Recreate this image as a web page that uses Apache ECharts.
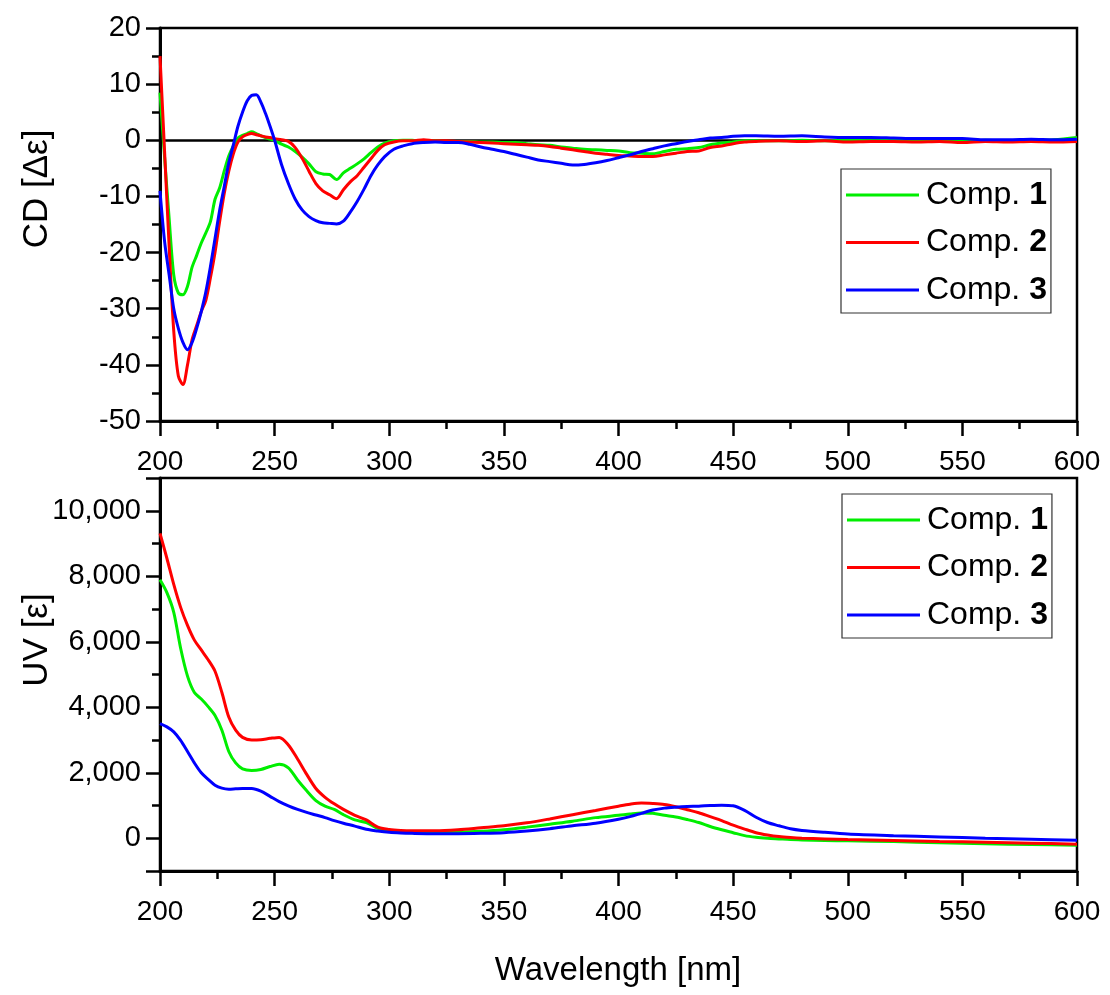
<!DOCTYPE html>
<html>
<head>
<meta charset="utf-8">
<script src="https://cdn.jsdelivr.net/npm/echarts@6/dist/echarts.min.js"></script>
<style>html,body{margin:0;padding:0;background:#fff;}#chart{width:1110px;height:995px;}</style>
</head>
<body>
<div id="chart"></div>
<script>
// ---------- DATA ----------
const seriesNames = ['Comp. 1', 'Comp. 2', 'Comp. 3'];
const xTicks = [200, 250, 300, 350, 400, 450, 500, 550, 600];
const cdTicks = [20, 10, 0, -10, -20, -30, -40, -50];
const uvTicks = [0, 2000, 4000, 6000, 8000, 10000];

const cdWavelengths = [200,202,204,206,208,210,212,214,216,218,220,222,224,226,228,230,232,234,236,238,240,242,244,246,248,250,253,256,259,262,265,268,271,274,277,280,283,286,289,292,295,298,302,306,310,315,320,325,330,335,340,345,350,355,360,365,370,375,380,385,390,395,400,405,410,415,420,425,430,435,440,445,450,455,460,470,480,490,500,510,520,530,540,550,560,570,580,590,600];
const cd1 = [8.5,-3,-14,-24,-27.2,-27.5,-26,-22.6,-20.5,-18.3,-16.5,-14.5,-10.5,-8.5,-5.5,-2.8,-1,0.4,0.9,1.2,1.5,1.2,0.8,0.5,0.2,0,-0.7,-1.2,-2.0,-3.0,-4.2,-5.6,-6.0,-6.1,-7.0,-5.8,-5.0,-4.2,-3.3,-2.2,-1.2,-0.5,-0.1,0,0,-0.2,-0.1,-0.2,-0.2,-0.2,-0.3,-0.3,-0.4,-0.4,-0.6,-0.8,-0.9,-1.2,-1.4,-1.6,-1.7,-1.8,-1.9,-2.2,-2.3,-2.4,-2.0,-1.6,-1.5,-1.3,-0.8,-0.5,-0.3,-0.1,-0.1,-0.1,0,-0.1,0,-0.1,0,-0.1,0,-0.2,0,-0.1,0,0.1,0.5];
const cd2 = [15,-2,-19,-34,-42,-43.5,-40,-35.5,-33,-30.5,-28.5,-24.5,-20,-14.5,-9.5,-5.5,-2.4,-0.3,0.6,1.0,1.2,1.0,0.8,0.6,0.5,0.3,0.1,-0.2,-1.3,-3.2,-5.5,-7.7,-9.0,-9.7,-10.4,-8.8,-7.4,-6.3,-4.8,-3.3,-1.8,-0.8,-0.3,-0.1,-0.1,0.1,-0.1,-0.1,-0.2,-0.3,-0.4,-0.5,-0.6,-0.7,-0.8,-0.9,-1.1,-1.4,-1.7,-2.0,-2.3,-2.5,-2.7,-2.8,-2.9,-2.9,-2.6,-2.3,-2.0,-1.9,-1.3,-1.0,-0.6,-0.3,-0.2,-0.1,-0.2,-0.1,-0.3,-0.2,-0.2,-0.3,-0.2,-0.4,-0.2,-0.3,-0.2,-0.3,-0.2];
const cd3 = [-9,-18,-24,-30,-33.5,-36,-37.3,-36,-33.5,-30.5,-27,-22.5,-17.5,-12.5,-8.3,-4.0,-0.8,2.5,5.0,7.0,8.0,8.1,6.8,4.8,2.5,0,-4.3,-7.7,-10.5,-12.4,-13.6,-14.3,-14.7,-14.8,-14.9,-14.4,-12.8,-10.9,-8.7,-6.3,-4.4,-2.9,-1.6,-1.0,-0.6,-0.4,-0.3,-0.4,-0.4,-0.7,-1.2,-1.6,-2.0,-2.5,-3.0,-3.5,-3.8,-4.1,-4.4,-4.3,-4.0,-3.6,-3.1,-2.6,-2.0,-1.5,-1.0,-0.6,-0.2,0.1,0.4,0.5,0.7,0.8,0.8,0.7,0.8,0.6,0.5,0.5,0.4,0.3,0.3,0.3,0.1,0.1,0.2,0.1,0.2];

const uvWavelengths = [200,203,206,209,212,215,218,221,224,227,230,233,236,240,244,248,252,256,260,264,268,272,276,280,285,290,295,300,305,310,320,330,340,350,360,370,380,390,400,405,410,415,420,425,430,435,440,445,450,455,460,465,470,475,480,490,500,520,540,560,580,600];
const uv1 = [7890,7500,6900,5800,4950,4450,4250,4020,3750,3300,2650,2300,2120,2070,2100,2190,2260,2150,1780,1450,1150,980,880,720,560,480,300,220,180,170,170,180,210,260,340,430,520,630,700,740,770,760,700,650,570,480,360,260,170,80,30,0,-20,-40,-50,-70,-80,-100,-140,-170,-190,-210];
const uv2 = [9310,8550,7750,7050,6500,6050,5750,5450,5100,4450,3700,3300,3080,3000,3010,3050,3080,2850,2420,1950,1520,1250,1050,880,700,560,340,270,240,230,230,260,320,380,470,590,720,850,980,1040,1075,1060,1030,960,870,780,660,540,400,280,170,100,50,20,0,-20,-40,-70,-100,-120,-150,-180];
const uv3 = [3500,3400,3250,2990,2650,2300,2000,1800,1620,1530,1500,1510,1520,1520,1440,1280,1120,990,880,790,710,630,540,460,370,275,220,180,160,150,140,140,150,170,220,290,380,460,580,660,760,860,920,950,970,980,1000,1010,990,850,640,480,380,290,240,180,130,80,40,0,-30,-60];

const colors = ['#00ee00', '#ff0000', '#0000ff'];

// ---------- CHART ----------
const FONT = '"Liberation Sans", Arial, sans-serif';
const chart = echarts.init(document.getElementById('chart'), null, {renderer: 'canvas'});

function zip(xs, ys) { return xs.map((x, i) => [x, ys[i]]); }

const gridCommon = {left: 160, width: 917, height: 393, show: true, borderColor: '#000', borderWidth: 2.5, backgroundColor: 'transparent'};

function xAxisFor(gi) {
  return {
    type: 'value', gridIndex: gi, min: 200, max: 600, interval: 50, position: 'bottom',
    axisLine: {show: true, onZero: false, lineStyle: {color: '#000', width: 3}},
    axisTick: {show: true, inside: false, length: 15, lineStyle: {color: '#000', width: 2.5}},
    minorTick: {show: true, splitNumber: 2, length: 8, lineStyle: {color: '#000', width: 2.5}},
    splitLine: {show: false},
    axisLabel: {color: '#000', fontSize: 28, fontFamily: FONT, margin: 27,
      formatter: v => xTicks.includes(v) ? String(v) : ''}
  };
}

const legendCommon = {
  orient: 'vertical', data: seriesNames, icon: 'rect', itemWidth: 73, itemHeight: 3, itemGap: 9.5,
  padding: [7, 4, 4, 5], borderColor: '#333', borderWidth: 1.2, backgroundColor: '#fff',
  selectedMode: false,
  textStyle: {color: '#000', fontSize: 32, fontFamily: FONT, lineHeight: 38, padding: [0, 0, 0, 2],
    rich: {n: {fontWeight: 'bold', fontSize: 32, fontFamily: FONT, lineHeight: 38, color: '#000'}}},
  formatter: name => name.replace(/(\d+)$/, '{n|$1}')
};

const series = [];
[cd1, cd2, cd3].forEach((arr, i) => {
  const s = {
    name: seriesNames[i], type: 'line', xAxisIndex: 0, yAxisIndex: 0,
    data: zip(cdWavelengths, arr), symbol: 'none', smooth: 0.3,
    lineStyle: {color: colors[i], width: 3}, itemStyle: {color: colors[i]}, z: 3
  };
  if (i === 0) {
    s.markLine = {silent: true, symbol: 'none', label: {show: false}, z: 2,
      lineStyle: {color: '#000', width: 2.5, type: 'solid'}, data: [{yAxis: 0}]};
  }
  series.push(s);
});
[uv1, uv2, uv3].forEach((arr, i) => {
  series.push({
    name: seriesNames[i], type: 'line', xAxisIndex: 1, yAxisIndex: 1,
    data: zip(uvWavelengths, arr), symbol: 'none', smooth: 0.3,
    lineStyle: {color: colors[i], width: 3}, itemStyle: {color: colors[i]}, z: 3
  });
});

const option = {
  animation: false,
  backgroundColor: '#fff',
  grid: [
    Object.assign({top: 28}, gridCommon),
    Object.assign({top: 478}, gridCommon)
  ],
  xAxis: [xAxisFor(0), xAxisFor(1)],
  yAxis: [
    {
      type: 'value', gridIndex: 0, min: -50, max: 20, interval: 10, position: 'left',
      axisLine: {show: true, lineStyle: {color: '#000', width: 3}},
      axisTick: {show: true, inside: false, length: 14, lineStyle: {color: '#000', width: 2.5}},
      minorTick: {show: true, splitNumber: 2, length: 8, lineStyle: {color: '#000', width: 2.5}},
      splitLine: {show: false},
      axisLabel: {color: '#000', fontSize: 29, fontFamily: FONT, margin: 19,
        formatter: v => cdTicks.includes(v) ? String(v) : ''}
    },
    {
      type: 'value', gridIndex: 1, min: -1000, max: 11000, position: 'left',
      axisLine: {show: true, lineStyle: {color: '#000', width: 3}},
      axisTick: {show: true, inside: false, length: 14, lineStyle: {color: '#000', width: 2.5},
        customValues: [-1000, 0, 2000, 4000, 6000, 8000, 10000, 11000]},
      splitLine: {show: false},
      axisLabel: {color: '#000', fontSize: 29, fontFamily: FONT, margin: 19,
        customValues: uvTicks,
        formatter: v => v.toLocaleString('en-US')}
    },
    {
      type: 'value', gridIndex: 1, min: -1000, max: 11000, position: 'left', offset: 0,
      axisLine: {show: false},
      axisTick: {show: true, inside: false, length: 8, lineStyle: {color: '#000', width: 2.5},
        customValues: [1000, 3000, 5000, 7000, 9000]},
      splitLine: {show: false},
      axisLabel: {show: false}
    }
  ],
  legend: [
    Object.assign({left: 841, top: 169}, legendCommon),
    Object.assign({left: 842, top: 494}, legendCommon)
  ],
  graphic: [
    {type: 'text', x: 37, y: 189, rotation: Math.PI / 2,
      style: {text: 'CD [Δε]', font: '35px ' + FONT, fill: '#000', align: 'center', verticalAlign: 'middle'}},
    {type: 'text', x: 37, y: 640, rotation: Math.PI / 2,
      style: {text: 'UV [ε]', font: '35px ' + FONT, fill: '#000', align: 'center', verticalAlign: 'middle'}},
    {type: 'text', x: 618, y: 971,
      style: {text: 'Wavelength [nm]', font: '33px ' + FONT, fill: '#000', align: 'center', verticalAlign: 'middle'}}
  ],
  series: series
};
chart.setOption(option);
</script>
</body>
</html>
